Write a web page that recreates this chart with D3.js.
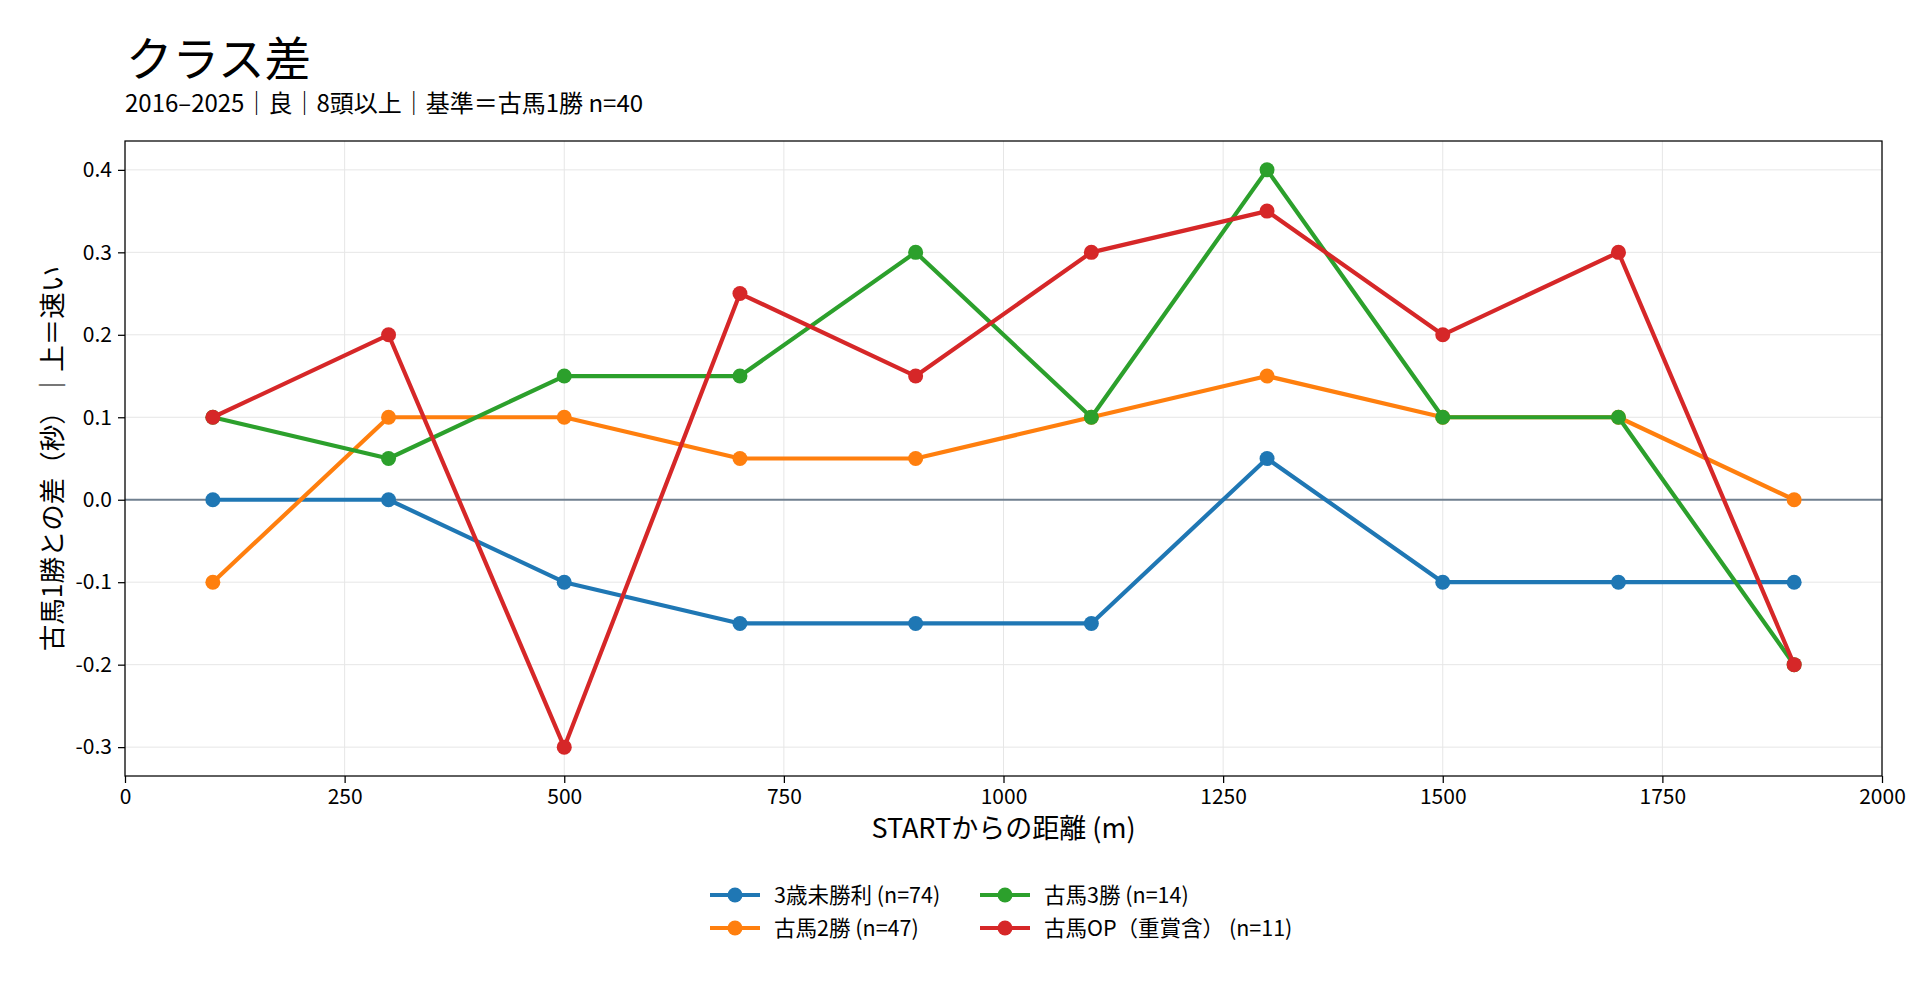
<!DOCTYPE html>
<html>
<head>
<meta charset="utf-8">
<script src="https://cdn.jsdelivr.net/npm/d3@7"></script>
<style>
	body { margin: 0; background: #fff; }
	svg { display: block; font-family: "Noto Sans CJK JP", "Noto Sans", sans-serif; }
	.grid line { stroke: #e6e6e6; stroke-width: 1; }
	.axis path, .axis line { stroke: #000; stroke-width: 1.25; }
	.axis text { font-family: "Noto Sans CJK JP", "Noto Sans", sans-serif; font-size: 21px; fill: #000; }
</style>
</head>
<body>
<svg width="1920" height="1008"></svg>
<script>
var distances = [100, 300, 500, 700, 900, 1100, 1300, 1500, 1700, 1900];
var seriesNames = ["3歳未勝利 (n=74)", "古馬2勝 (n=47)", "古馬3勝 (n=14)", "古馬OP（重賞含） (n=11)"];
var seriesColors = ["#1f77b4", "#ff7f0e", "#2ca02c", "#d62728"];
var maiden3 = [0, 0, -0.1, -0.15, -0.15, -0.15, 0.05, -0.1, -0.1, -0.1];
var win2 = [-0.1, 0.1, 0.1, 0.05, 0.05, 0.1, 0.15, 0.1, 0.1, 0.0];
var win3 = [0.1, 0.05, 0.15, 0.15, 0.3, 0.1, 0.4, 0.1, 0.1, -0.2];
var openClass = [0.1, 0.2, -0.3, 0.25, 0.15, 0.3, 0.35, 0.2, 0.3, -0.2];
var xTicks = [0, 250, 500, 750, 1000, 1250, 1500, 1750, 2000];
var yTicks = [-0.3, -0.2, -0.1, 0.0, 0.1, 0.2, 0.3, 0.4];

var svg = d3.select("svg");
var pLeft = 125, pRight = 1882, pTop = 141, pBottom = 776;

var x = d3.scaleLinear().domain([0, 2000]).range([pLeft, pRight]);
var y = d3.scaleLinear().domain([-0.335, 0.435]).range([pBottom, pTop]);

var series = [maiden3, win2, win3, openClass].map(function(vals, i) {
	return {
		name: seriesNames[i],
		color: seriesColors[i],
		points: vals.map(function(v, j) { return { x: distances[j], y: v }; })
	};
});

// grid
var grid = svg.append("g").attr("class", "grid");
grid.selectAll(".gx").data(xTicks).enter().append("line")
	.attr("x1", function(d) { return x(d); })
	.attr("x2", function(d) { return x(d); })
	.attr("y1", pTop).attr("y2", pBottom);
grid.selectAll(".gy").data(yTicks).enter().append("line")
	.attr("x1", pLeft).attr("x2", pRight)
	.attr("y1", function(d) { return y(d); })
	.attr("y2", function(d) { return y(d); });

// zero line
svg.append("line")
	.attr("x1", pLeft).attr("x2", pRight)
	.attr("y1", y(0)).attr("y2", y(0))
	.attr("stroke", "#708090").attr("stroke-width", 2);

var line = d3.line()
	.x(function(d) { return x(d.x); })
	.y(function(d) { return y(d.y); });

var sg = svg.append("g").selectAll("g")
	.data(series)
	.enter().append("g");

sg.append("path")
	.attr("d", function(d) { return line(d.points); })
	.attr("fill", "none")
	.attr("stroke", function(d) { return d.color; })
	.attr("stroke-width", 4.2)
	.attr("stroke-linejoin", "round");

sg.selectAll("circle")
	.data(function(d) { return d.points.map(function(p) { return { p: p, c: d.color }; }); })
	.enter().append("circle")
		.attr("cx", function(d) { return x(d.p.x); })
		.attr("cy", function(d) { return y(d.p.y); })
		.attr("r", 7.5)
		.attr("fill", function(d) { return d.c; });

// frame
svg.append("rect")
	.attr("x", pLeft).attr("y", pTop)
	.attr("width", pRight - pLeft).attr("height", pBottom - pTop)
	.attr("fill", "none").attr("stroke", "#000").attr("stroke-width", 1.25);

// axes
svg.append("g")
	.attr("class", "axis")
	.attr("transform", "translate(0," + pBottom + ")")
	.call(d3.axisBottom(x).tickValues(xTicks).tickSize(7).tickPadding(6).tickFormat(d3.format("d")))
	.call(function(g) { g.select(".domain").remove(); });

svg.append("g")
	.attr("class", "axis")
	.attr("transform", "translate(" + pLeft + ",0)")
	.call(d3.axisLeft(y).tickValues(yTicks).tickSize(7).tickPadding(6)
		.tickFormat(function(d) { return d3.format(".1f")(d).replace("−", "-"); }))
	.call(function(g) { g.select(".domain").remove(); });

// labels
svg.append("text")
	.attr("x", (pLeft + pRight) / 2).attr("y", 838)
	.attr("text-anchor", "middle")
	.attr("font-size", 27)
	.text("STARTからの距離 (m)");

svg.append("text")
	.attr("transform", "translate(62," + ((pTop + pBottom) / 2) + ") rotate(-90)")
	.attr("text-anchor", "middle")
	.attr("font-size", 26.5)
	.text("古馬1勝との差（秒）｜上＝速い");

svg.append("text")
	.attr("x", 126).attr("y", 76)
	.attr("font-size", 46.5)
	.text("クラス差");

svg.append("text")
	.attr("x", 125).attr("y", 112)
	.attr("font-size", 24)
	.text("2016–2025｜良｜8頭以上｜基準＝古馬1勝 n=40");

// legend
var legendPos = [[710, 895], [710, 928], [980, 895], [980, 928]];
var lg = svg.append("g").selectAll("g")
	.data(series)
	.enter().append("g")
		.attr("transform", function(d, i) { return "translate(" + legendPos[i][0] + "," + legendPos[i][1] + ")"; });

lg.append("line")
	.attr("x1", 0).attr("x2", 50)
	.attr("stroke", function(d) { return d.color; })
	.attr("stroke-width", 4.2);
lg.append("circle")
	.attr("cx", 25).attr("r", 7.5)
	.attr("fill", function(d) { return d.color; });
lg.append("text")
	.attr("x", 64).attr("y", 7.5)
	.attr("font-size", 21.5)
	.text(function(d) { return d.name; });
</script>
</body>
</html>
